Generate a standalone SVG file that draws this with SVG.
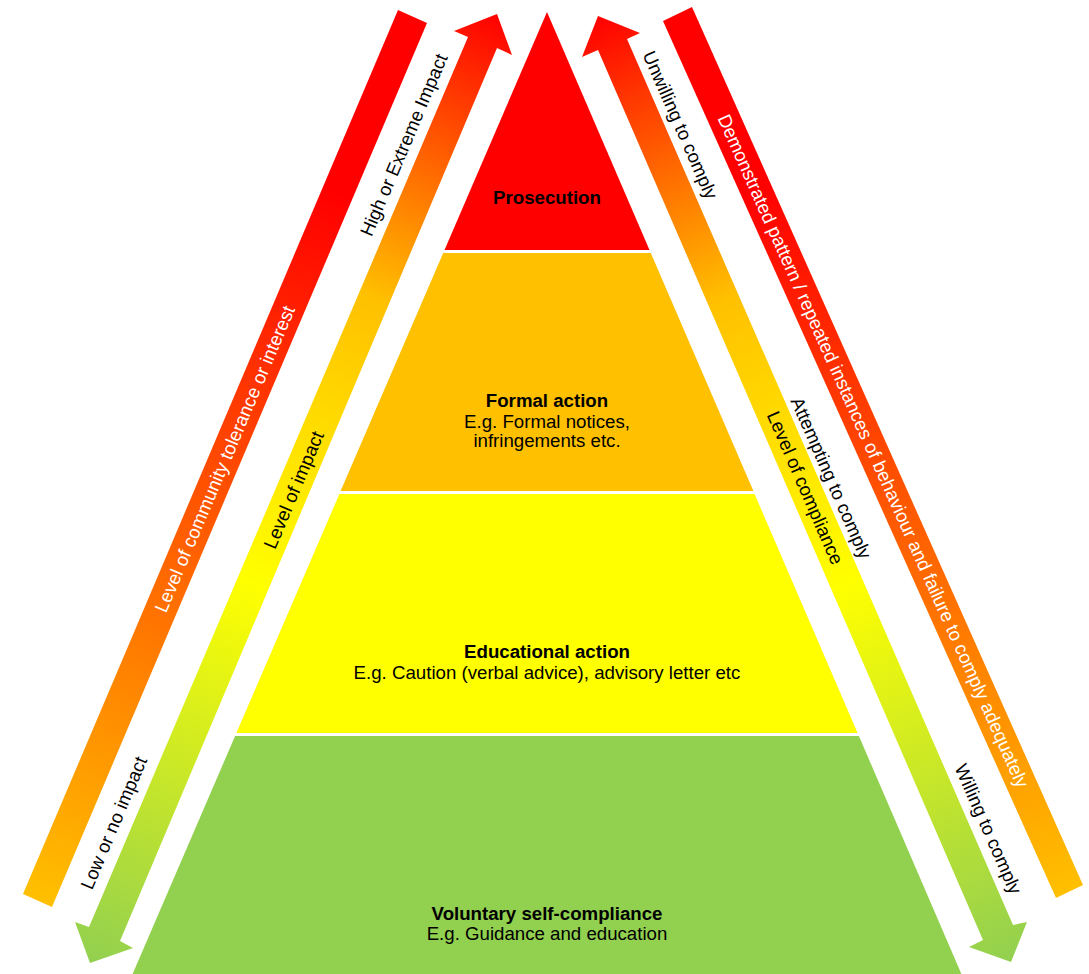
<svg xmlns="http://www.w3.org/2000/svg" width="1089" height="974" viewBox="0 0 1089 974">
<defs>
<linearGradient id="gLeftBand" gradientUnits="userSpaceOnUse" x1="412" y1="16" x2="37" y2="900">
<stop offset="0" stop-color="#FF0000"/><stop offset="0.2" stop-color="#FF0000"/><stop offset="1" stop-color="#FFC000"/>
</linearGradient>
<linearGradient id="gRightBand" gradientUnits="userSpaceOnUse" x1="677" y1="14" x2="1070" y2="891">
<stop offset="0" stop-color="#FF0000"/><stop offset="0.2" stop-color="#FF0000"/><stop offset="1" stop-color="#FFC000"/>
</linearGradient>
<linearGradient id="gLeftArrow" gradientUnits="userSpaceOnUse" x1="497" y1="14" x2="90" y2="963">
<stop offset="0" stop-color="#FF0000"/><stop offset="0.3" stop-color="#FFC000"/><stop offset="0.6" stop-color="#FFFF00"/><stop offset="1" stop-color="#92D050"/>
</linearGradient>
<linearGradient id="gRightArrow" gradientUnits="userSpaceOnUse" x1="598" y1="16" x2="1011" y2="962">
<stop offset="0" stop-color="#FF0000"/><stop offset="0.3" stop-color="#FFC000"/><stop offset="0.6" stop-color="#FFFF00"/><stop offset="1" stop-color="#92D050"/>
</linearGradient>
</defs>
<style>
text{font-family:"Liberation Sans",Arial,sans-serif;font-size:18.67px;fill:#000;text-anchor:middle}
.b{font-weight:bold}
.w{fill:#FFFFFF}
.layer{stroke:none}
</style>
<rect x="0" y="0" width="1089" height="974" fill="#FFFFFF"/>
<g id="pyramid">
<g id="prosecution">
<polygon class="layer" points="547,12 649.5,250 444.5,250" fill="#FF0000"/>
<text class="b" x="547" y="204">Prosecution</text>
</g>
<g id="formal-action">
<polygon class="layer" points="443.2,253 650.8,253 753.4,491 340.6,491" fill="#FFC000"/>
<text class="b" x="547" y="407">Formal action</text>
<text x="547" y="427.5">E.g. Formal notices,</text>
<text x="547" y="446.5">infringements etc.</text>
</g>
<g id="educational-action">
<polygon class="layer" points="339.4,494 754.6,494 857.6,733 236.4,733" fill="#FFFF00"/>
<text class="b" x="547" y="658">Educational action</text>
<text x="547" y="678.5">E.g. Caution (verbal advice), advisory letter etc</text>
</g>
<g id="voluntary-self-compliance">
<polygon class="layer" points="235.1,736 858.9,736 961.4,974 132.6,974" fill="#92D050"/>
<text class="b" x="547" y="919.5">Voluntary self-compliance</text>
<text x="547" y="940">E.g. Guidance and education</text>
</g>
</g>
<g id="connectors">
<g id="left-band">
<polygon points="398,10 427,23 52,907 23,894" fill="url(#gLeftBand)"/>
<text class="w" transform="translate(225,459) rotate(-67)" dy="0.33em">Level of community  tolerance or interest</text>
</g>
<g id="left-arrow">
<polygon points="497,14 512,55 497,48 120,941 133,948 90,963 75,922 89,927 468,37 454,31" fill="url(#gLeftArrow)"/>
<text transform="translate(294,490) rotate(-66.9)" dy="0.33em">Level of impact</text>
</g>
<g id="right-band">
<polygon points="663,21 692,7 1083,885 1056,898" fill="url(#gRightBand)"/>
<text class="w" transform="translate(873,451) rotate(65.9)" dy="0.33em">Demonstrated pattern / repeated instances of behaviour and failure to comply adequately</text>
</g>
<g id="right-arrow">
<polygon points="598,16 640,33 627,39 1013,925 1027,922 1011,962 969,947 983,940 598,50 582,57" fill="url(#gRightArrow)"/>
<text transform="translate(805,488) rotate(66.6)" dy="0.33em">Level of compliance</text>
</g>
</g>
<g id="labels">
<text transform="translate(404,145) rotate(-67)" dy="0.33em">High or Extreme Impact</text>
<text transform="translate(114,823) rotate(-67)" dy="0.33em">Low or no impact</text>
<text transform="translate(680,125) rotate(66.3)" dy="0.33em">Unwilling to comply</text>
<text transform="translate(831,478) rotate(66.3)" dy="0.33em">Attempting to comply</text>
<text transform="translate(988,829) rotate(66.3)" dy="0.33em">Willing to comply</text>
</g>
</svg>
